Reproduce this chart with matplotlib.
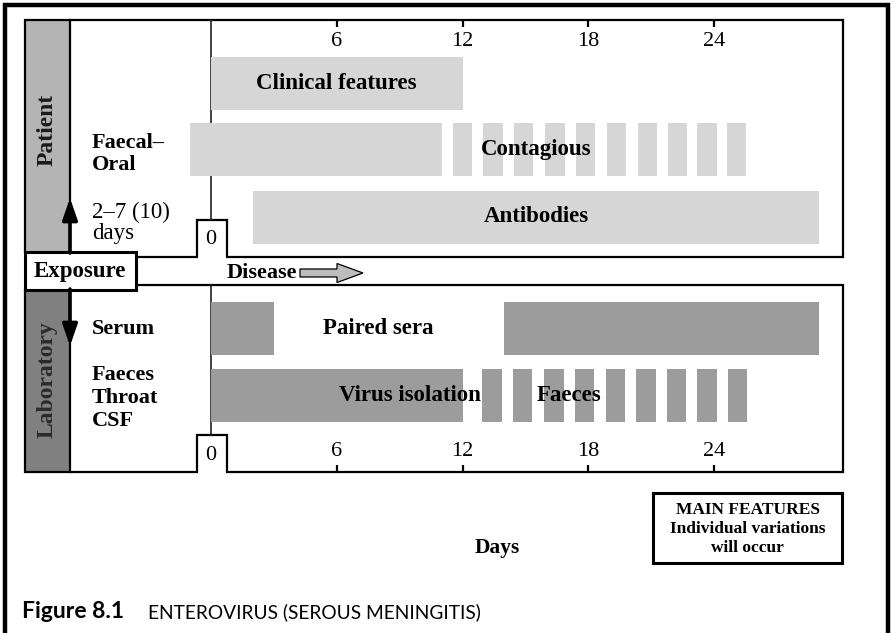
import matplotlib
matplotlib.use("Agg")
import matplotlib.pyplot as plt
from matplotlib.patches import Rectangle, FancyArrow
import numpy as np

plt.rcParams['font.family'] = ['Liberation Serif', 'DejaVu Serif']

# Tage (Zeitachse)
tick_days = [0, 6, 12, 18, 24]
tick_labels = ["0", "6", "12", "18", "24"]

clinical = (0, 12)
contagious_solid = (-1, 11)
contagious_dashes = [11.55, 13.0, 14.45, 15.95, 17.4, 18.9, 20.35, 21.8, 23.2, 24.6]
antibodies = (2, 29)

paired_sera = [(0, 3), (14, 29)]
virus_solid = (0, 12)
faeces_dashes = [12.95, 14.4, 15.9, 17.35, 18.85, 20.3, 21.75, 23.2, 24.65]
dash_len = 0.92

patient_labels = ["Faecal\u2013", "Oral"]
incubation_labels = ["2\u20137 (10)", "days"]
lab_labels = ["Faeces", "Throat", "CSF"]
note_lines = ["MAIN FEATURES", "Individual variations", "will occur"]

W, H = 894, 633
LIGHT = "#d6d6d6"
DARK = "#9c9c9c"

# Pixel pro Tag: Tag 0 bei x=211, Tag 24 bei x=714
X0 = 211
PPD = (714 - 211) / 24.0


def frame(ax):
    # aeusserer Rahmen
    ax.plot([5, 5, 888, 888], [H + 10, 5, 5, H + 10], color="k", lw=3.2,
            solid_joinstyle="miter")

    # seitliche Baender
    ax.add_patch(Rectangle((25, 20), 45, 232, fc="#b4b4b4", ec="none"))
    ax.add_patch(Rectangle((25, 290), 45, 182, fc="#808080", ec="none"))

    # oberes Feld
    ax.plot([136, 197, 197, 227, 227, 843, 843, 25, 25],
            [257, 257, 220, 220, 257, 257, 20, 20, 252],
            color="k", lw=1.6, solid_joinstyle="miter")
    # unteres Feld
    ax.plot([136, 843, 843, 227, 227, 197, 197, 25, 25],
            [285, 285, 472, 472, 435, 435, 472, 472, 290],
            color="k", lw=1.6, solid_joinstyle="miter")

    ax.plot([70, 70], [20, 252], color="k", lw=1.6)
    ax.plot([70, 70], [290, 472], color="k", lw=1.6)
    ax.plot([211, 211], [20, 220], color="#222222", lw=1.2)
    ax.plot([211, 211], [285, 435], color="#222222", lw=1.2)

    # Exposure Kasten
    ax.add_patch(Rectangle((25, 252), 111, 38, fc="white", ec="k", lw=2.2,
                           zorder=3))
    ax.text(80, 272, "Exposure", fontsize=16.5, fontweight="bold",
            ha="center", va="center", zorder=4)

    ax.text(47, 130, "Patient", fontsize=17, fontweight="bold", rotation=90,
            ha="center", va="center", color="#1a1a1a")
    ax.text(47, 380, "Laboratory", fontsize=17, fontweight="bold",
            rotation=90, ha="center", va="center", color="#2a2a2a")

    # Pfeile Inkubation
    ax.annotate("", xy=(70, 198), xytext=(70, 253),
                arrowprops=dict(arrowstyle="-|>,head_length=1.3,head_width=0.45",
                                lw=2.6, color="k", shrinkA=0, shrinkB=0))
    ax.annotate("", xy=(70, 346), xytext=(70, 289),
                arrowprops=dict(arrowstyle="-|>,head_length=1.3,head_width=0.45",
                                lw=2.6, color="k", shrinkA=0, shrinkB=0))

    ax.text(227, 273, "Disease", fontsize=16, fontweight="bold",
            ha="left", va="center")
    ax.add_patch(FancyArrow(300, 273, 63, 0, width=8, head_width=19,
                            head_length=26, length_includes_head=True,
                            fc="#bdbdbd", ec="k", lw=0.9))

    for i, s in enumerate(patient_labels):
        ax.text(92, 143 + 22 * i, s, fontsize=16, fontweight="bold",
                va="center")
    for i, s in enumerate(incubation_labels):
        ax.text(92, 212 + 21 * i, s, fontsize=16.5, va="center")
    ax.text(92, 329, "Serum", fontsize=16, fontweight="bold", va="center")
    for i, s in enumerate(lab_labels):
        ax.text(92, 375 + 23 * i, s, fontsize=16, fontweight="bold",
                va="center")

    ax.text(497, 548, "Days", fontsize=15.5, fontweight="bold",
            ha="center", va="center")

    # Hinweis Kasten
    ax.add_patch(Rectangle((653, 493), 189, 70, fc="white", ec="k", lw=2.2))
    for i, s in enumerate(note_lines):
        ax.text(747.5, 510 + 19 * i, s, fontsize=12.5, fontweight="bold",
                ha="center", va="center")

    # Bildunterschrift
    ax.text(22, 612, "Figure 8.1", fontsize=16.5, fontweight="bold",
            family=["Lato", "DejaVu Sans"], va="center")
    ax.text(148, 612, "ENTEROVIRUS (SEROUS MENINGITIS)", fontsize=13.8,
            family=["Lato", "DejaVu Sans"], va="center")


def bars(ax):
    h = 53
    # oben
    ax.barh(83.5, clinical[1] - clinical[0], left=clinical[0], height=h,
            color=LIGHT)
    ax.barh(149.5, contagious_solid[1] - contagious_solid[0],
            left=contagious_solid[0], height=h, color=LIGHT)
    ax.barh([149.5] * len(contagious_dashes), dash_len, left=contagious_dashes,
            height=h, color=LIGHT)
    ax.barh(217, antibodies[1] - antibodies[0], left=antibodies[0], height=h,
            color=LIGHT)

    # unten
    for a, b in paired_sera:
        ax.barh(328, b - a, left=a, height=h, color=DARK)
    ax.barh(395.5, virus_solid[1] - virus_solid[0], left=virus_solid[0],
            height=h, color=DARK)
    ax.barh([395.5] * len(faeces_dashes), dash_len, left=faeces_dashes,
            height=h, color=DARK)

    ax.text(6, 83.5, "Clinical features", fontsize=16.5, fontweight="bold",
            ha="center", va="center")
    ax.text(15.5, 149.5, "Contagious", fontsize=16.5, fontweight="bold",
            ha="center", va="center")
    ax.text(15.5, 217, "Antibodies", fontsize=16.5, fontweight="bold",
            ha="center", va="center")
    ax.text(8, 328, "Paired sera", fontsize=16.5, fontweight="bold",
            ha="center", va="center")
    ax.text(9.5, 395.5, "Virus isolation", fontsize=16.5, fontweight="bold",
            ha="center", va="center")
    ax.text(17.1, 395.5, "Faeces", fontsize=16.5, fontweight="bold",
            ha="center", va="center")

    # Achsenteilung oben und unten
    ax.vlines(tick_days[1:], 20, 27, color="k", lw=1.6)
    ax.vlines(tick_days[1:], 465, 472, color="k", lw=1.6)
    for d, s in zip(tick_days, tick_labels):
        if d == 0:
            ax.text(d, 240, s, fontsize=16, ha="center", va="center")
            ax.text(d, 455, s, fontsize=16, ha="center", va="center")
        else:
            ax.text(d, 42, s, fontsize=16, ha="center", va="center")
            ax.text(d, 452, s, fontsize=16, ha="center", va="center")


def main():
    fig = plt.figure(figsize=(W / 100, H / 100), dpi=100)
    canvas = fig.add_axes([0, 0, 1, 1])
    canvas.set_xlim(0, W)
    canvas.set_ylim(H, 0)
    canvas.set_axis_off()

    days = fig.add_axes([0, 0, 1, 1])
    days.set_xlim(-X0 / PPD, (W - X0) / PPD)
    days.set_ylim(H, 0)
    days.set_axis_off()
    days.patch.set_alpha(0)

    frame(canvas)
    bars(days)

    fig.savefig("out.png", dpi=100)


if __name__ == "__main__":
    main()
